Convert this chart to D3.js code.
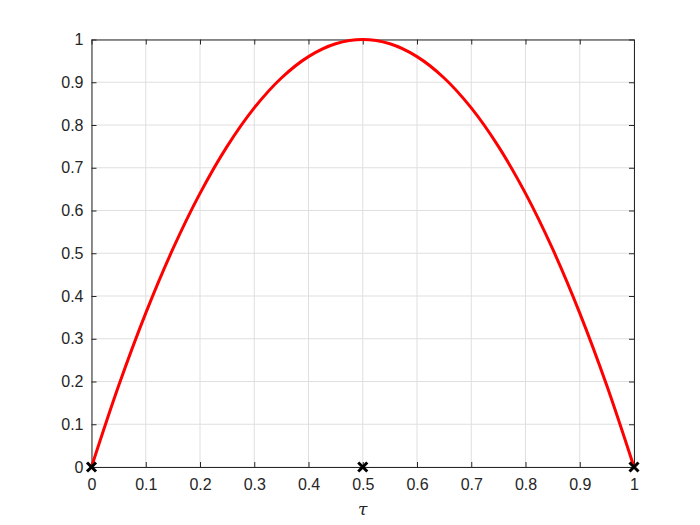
<!DOCTYPE html>
<html><head><meta charset="utf-8">
<script src="https://cdn.jsdelivr.net/npm/d3@7"></script>
<style>body{margin:0;background:#fff}svg{display:block}</style>
</head><body>
<svg id="c" width="700" height="525"></svg>
<script>
const tau = [0,0.05,0.1,0.15,0.2,0.25,0.3,0.35,0.4,0.45,0.5,0.55,0.6,0.65,0.7,0.75,0.8,0.85,0.9,0.95,1];
const values = [0,0.19,0.36,0.51,0.64,0.75,0.84,0.91,0.96,0.99,1,0.99,0.96,0.91,0.84,0.75,0.64,0.51,0.36,0.19,0];
const markerX = [0,0.5,1];
const markerY = [0,0,0];
const xTicks = [0,0.1,0.2,0.3,0.4,0.5,0.6,0.7,0.8,0.9,1];
const yTicks = [0,0.1,0.2,0.3,0.4,0.5,0.6,0.7,0.8,0.9,1];
const xLabel = "τ";

const svg = d3.select("#c");
const L=91.5, R=634, T=39.5, B=467;
const x = d3.scaleLinear().domain([0,1]).range([L,R]);
const y = d3.scaleLinear().domain([0,1]).range([B,T]);
const g = svg.append("g");
g.selectAll(".gx").data(xTicks).join("line").attr("x1",d=>x(d)).attr("x2",d=>x(d)).attr("y1",T).attr("y2",B).attr("stroke","#dfdfdf").attr("stroke-width",1);
g.selectAll(".gy").data(yTicks).join("line").attr("y1",d=>y(d)).attr("y2",d=>y(d)).attr("x1",L).attr("x2",R).attr("stroke","#dfdfdf").attr("stroke-width",1);

const font = "Liberation Sans, Arial, sans-serif";
const axB = d3.axisBottom(x).tickValues(xTicks).tickFormat(d3.format("~g")).tickSizeInner(-5).tickSizeOuter(0).tickPadding(12);
const axT = d3.axisTop(x).tickValues(xTicks).tickFormat("").tickSizeInner(-5).tickSizeOuter(0);
const axL = d3.axisLeft(y).tickValues(yTicks).tickFormat(d3.format("~g")).tickSizeInner(-5).tickSizeOuter(0).tickPadding(8);
const axR = d3.axisRight(y).tickValues(yTicks).tickFormat("").tickSizeInner(-5).tickSizeOuter(0);
function style(sel){sel.selectAll("path").attr("stroke","#262626");sel.selectAll("line").attr("stroke","#262626");sel.selectAll("text").attr("fill","#262626").style("font-family",font).style("font-size","16px");}
style(svg.append("g").attr("transform",`translate(0,${B})`).call(axB));
style(svg.append("g").attr("transform",`translate(0,${T})`).call(axT));
style(svg.append("g").attr("transform",`translate(${L},0)`).call(axL));
style(svg.append("g").attr("transform",`translate(${R},0)`).call(axR));

const line = d3.line().x((d,i)=>x(tau[i])).y(d=>y(d)).curve(d3.curveCatmullRom);
svg.append("path").attr("d",line(values)).attr("fill","none").attr("stroke","#ff0000").attr("stroke-width",3);

const sym = d3.symbol().type(d3.symbolX).size(55);
svg.selectAll(".m").data(markerX).join("path").attr("d",sym).attr("transform",(d,i)=>`translate(${x(d)},${y(markerY[i])})`).attr("stroke","#000").attr("stroke-width",3).attr("fill","none");

svg.append("text").attr("x",(L+R)/2).attr("y",515).attr("text-anchor","middle").style("font-family","DejaVu Serif, serif").style("font-style","italic").style("font-size","17px").attr("fill","#262626").text(xLabel);
</script>
</body></html>
